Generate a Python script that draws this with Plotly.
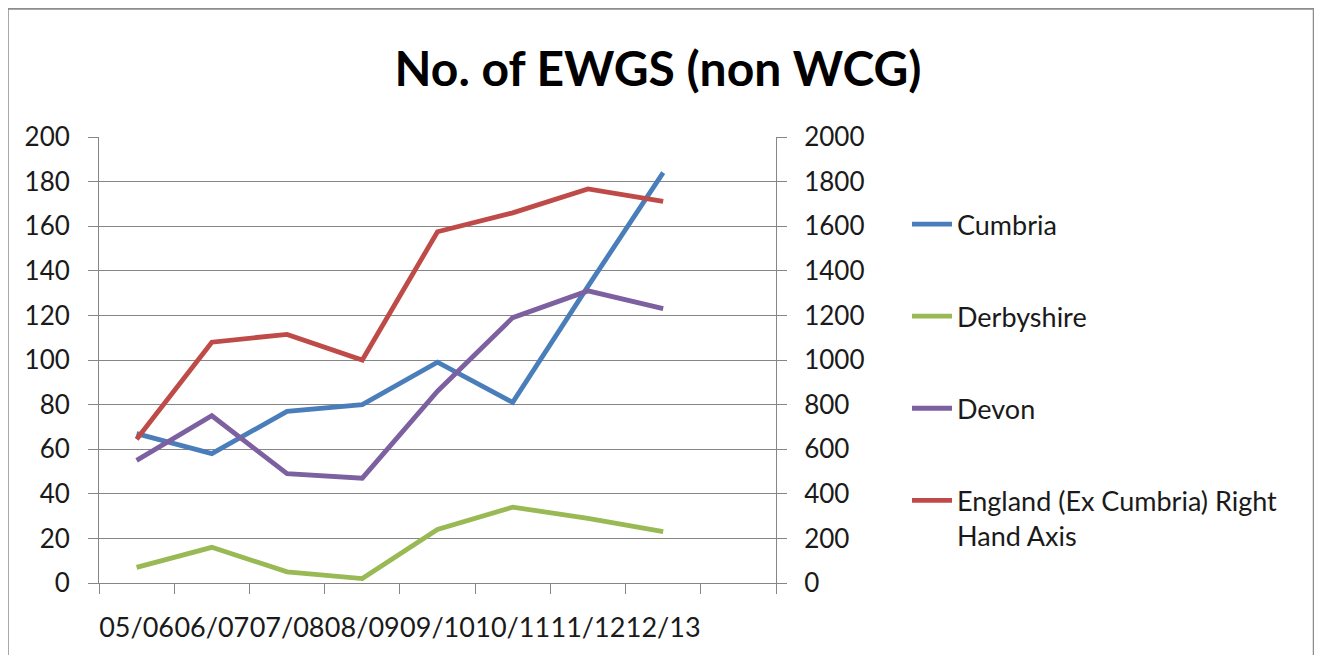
import plotly.graph_objects as go

title = "No. of EWGS (non WCG)"
categories = ["05/06", "06/07", "07/08", "08/09", "09/10", "10/11", "11/12", "12/13"]
axis_slots = categories + [" "]

cumbria = [67, 58, 77, 80, 99, 81, 133, 184]
derbyshire = [7, 16, 5, 2, 24, 34, 29, 23]
devon = [55, 75, 49, 47, 86, 119, 131, 123]
england_ex_cumbria = [645, 1080, 1115, 1000, 1575, 1660, 1767, 1711]

names = ["Cumbria", "Derbyshire", "Devon", "England (Ex Cumbria) Right<br>Hand Axis"]
colors = ["#4A7EBB", "#98B954", "#7D60A0", "#BE4B48"]

# page has an 8px body margin; positions below are in figure pixels
OFF = 8
W, H = 1322, 655
ML = 99 - OFF
MT = 137 - OFF
PW = 776 - 99
PH = 583 - 137
MR = W - ML - PW
MB = H - MT - PH

FONT = "Lato"
TXT = "#1a1a1a"
GRID = "#868686"

fig = go.Figure()
series = [cumbria, derbyshire, devon]
for i, vals in enumerate(series):
    fig.add_trace(go.Scatter(x=categories, y=vals, name=names[i], mode="lines",
                             line=dict(color=colors[i], width=4.8),
                             legendgroup=f"g{i}", yaxis="y"))
fig.add_trace(go.Scatter(x=categories, y=england_ex_cumbria, name=names[3], mode="lines",
                         line=dict(color=colors[3], width=4.8),
                         legendgroup="g3", yaxis="y2"))

def px_x(p):
    return (p - OFF - ML) / PW

def px_y(p):
    return (MT + PH - (p - OFF)) / PH

fig.update_layout(
    width=W, height=H,
    margin=dict(l=ML, r=MR, t=MT, b=MB),
    paper_bgcolor="white", plot_bgcolor="white",
    font=dict(family=FONT, size=26, color=TXT),
    title=dict(text=title, x=(658 - OFF) / W, xref="container", xanchor="center",
               y=1 - (69 - OFF) / H, yref="container", yanchor="middle",
               font=dict(family=FONT, size=48, color="#000000", weight="bold")),
    showlegend=True,
    legend=dict(x=px_x(907), y=px_y(200), xanchor="left", yanchor="top",
                font=dict(family=FONT, size=27, color=TXT),
                tracegroupgap=54, valign="top", itemwidth=40,
                bgcolor="rgba(0,0,0,0)"),
    xaxis=dict(type="category", categoryorder="array", categoryarray=axis_slots,
               range=[-0.5, 8.5], tickmode="array", tickvals=axis_slots, ticktext=axis_slots,
               tickson="boundaries", ticks="outside", ticklen=10, tickcolor=GRID, tickwidth=1,
               showline=True, linecolor=GRID, linewidth=1, showgrid=False, zeroline=False,
               tickangle=0, tickfont=dict(family=FONT, size=27, color=TXT),
               ticklabelstandoff=21),
    yaxis=dict(range=[0, 200], dtick=20, tick0=0, ticks="outside", ticklen=10, tickcolor=GRID,
               showline=True, linecolor=GRID, linewidth=1, showgrid=True, gridcolor=GRID,
               gridwidth=1, zeroline=False, tickfont=dict(family=FONT, size=26, color=TXT),
               ticklabelstandoff=13),
    yaxis2=dict(range=[0, 2000], dtick=200, tick0=0, overlaying="y", side="right",
                ticks="outside", ticklen=10, tickcolor=GRID, showline=True, linecolor=GRID,
                linewidth=1, showgrid=False, zeroline=False,
                tickfont=dict(family=FONT, size=26, color=TXT), ticklabelstandoff=12),
)

fig.add_shape(type="rect", xref="paper", yref="paper",
              x0=px_x(7.5), x1=px_x(1314), y0=px_y(680), y1=px_y(8.5),
              line=dict(color="#8c8c8c", width=2.5), fillcolor="rgba(0,0,0,0)", layer="below")

fig.write_html("out.html")
